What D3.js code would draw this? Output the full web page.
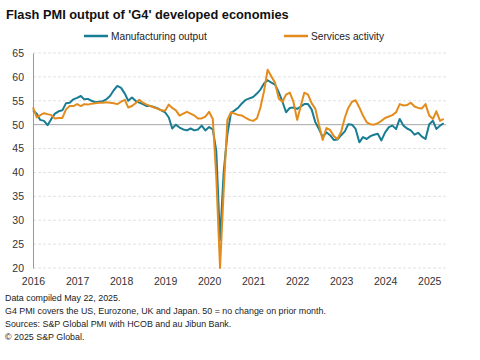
<!DOCTYPE html>
<html><head><meta charset="utf-8">
<script src="https://cdn.jsdelivr.net/npm/d3@7"></script>
<style>
body{margin:0;background:#fff;}
svg{display:block;font-family:"Liberation Sans",Arial,sans-serif;}
</style></head>
<body><svg id="c" width="480" height="360"></svg>
<script>
const startYear = 2016, startMonth = 0;
const manufacturing = [53.0,52.3,51.0,50.8,49.9,51.2,52.3,52.8,53.0,54.5,54.6,55.3,55.6,56.0,55.3,55.4,55.0,54.7,54.8,54.9,55.3,56.0,57.2,58.1,57.7,56.5,55.0,55.7,55.0,54.6,54.3,53.9,53.9,53.7,53.4,53.0,52.6,51.5,49.2,50.0,49.4,49.0,48.8,49.2,48.8,49.0,49.8,48.8,49.5,49.0,44.5,25.8,40.0,48.0,52.5,53.0,53.6,54.5,55.2,55.5,55.8,56.5,57.3,58.6,59.3,58.8,58.4,56.8,54.8,52.6,53.5,53.6,53.3,53.8,54.3,54.3,53.2,50.5,49.1,47.4,48.4,47.8,46.8,46.9,47.8,48.6,50.1,50.0,49.1,46.3,47.4,47.0,47.6,47.9,48.1,46.7,48.4,49.5,49.8,49.1,51.2,49.8,49.2,48.8,47.9,48.3,47.5,47.0,50.1,50.8,49.1,49.8,50.3];
const services = [53.6,51.5,52.0,52.4,52.2,52.0,51.3,51.4,51.4,53.2,53.9,53.9,54.3,53.9,54.3,54.2,54.4,54.5,54.6,54.6,54.7,54.6,54.5,54.3,54.8,55.2,53.6,53.9,54.5,55.2,54.6,54.2,53.9,53.6,53.3,53.0,52.9,54.2,53.5,53.0,51.9,52.3,52.7,52.3,51.9,51.3,51.3,51.7,52.7,51.2,39.0,20.0,36.0,51.0,52.6,52.3,52.0,51.9,51.4,51.0,50.8,51.3,53.5,57.0,61.5,60.1,58.8,55.5,54.8,56.3,56.7,54.8,51.0,54.0,56.7,56.3,54.5,53.3,50.0,46.8,49.3,48.9,47.6,47.0,48.5,51.5,53.5,54.8,55.1,53.6,51.9,50.5,50.1,50.0,50.3,50.8,51.4,51.7,52.0,52.6,54.3,54.0,54.1,54.6,53.8,53.5,53.4,54.3,51.9,51.2,52.8,50.8,51.2];
const yTicks = [20,25,30,35,40,45,50,55,60,65];
const xTickYears = [2016,2017,2018,2019,2020,2021,2022,2023,2024,2025];
const seriesNames = ["Manufacturing output","Services activity"];
const colors = ["#187d93","#e38c1d"];
const title = "Flash PMI output of 'G4' developed economies";
const notes = ["Data compiled May 22, 2025.","G4 PMI covers the US, Eurozone, UK and Japan. 50 = no change on prior month.","Sources: S&P Global PMI with HCOB and au Jibun Bank.","\u00a9 2025 S&P Global."];

const dates = manufacturing.map((_,i)=>new Date(startYear, startMonth+i, 1));
const svg = d3.select("#c");
const x = d3.scaleTime().domain([dates[0], dates[dates.length-1]]).range([33, 443.7]);
const y = d3.scaleLinear().domain([20,65]).range([268,53]);

svg.append("text").attr("x",6).attr("y",19).attr("font-size",12.8).attr("font-weight","bold").attr("fill","#111").text(title);

// grid
svg.append("g").selectAll("line").data(yTicks).join("line")
  .attr("x1",33).attr("x2",446).attr("y1",d=>y(d)).attr("y2",d=>y(d))
  .attr("stroke",d=>d===50?"#a6a6a6":"#e2e2e2").attr("stroke-width",1)
  .attr("stroke-dasharray",d=>d===50?null:"3,2");

// y axis
const yAx = svg.append("g").attr("transform","translate(33,0)")
  .call(d3.axisLeft(y).tickValues(yTicks).tickSize(0).tickPadding(9));
yAx.select(".domain").attr("stroke","#999");
yAx.selectAll("text").attr("font-size",10.5).attr("fill","#333").attr("font-family","Liberation Sans, Arial, sans-serif");

// x axis labels
const xAx = svg.append("g").attr("transform","translate(0,268)")
  .call(d3.axisBottom(x).tickValues(xTickYears.map(yr=>new Date(yr,0,1))).tickFormat(d3.timeFormat("%Y")).tickSize(0).tickPadding(10));
xAx.select(".domain").remove();
xAx.selectAll("text").attr("font-size",10.5).attr("fill","#333").attr("font-family","Liberation Sans, Arial, sans-serif");

// lines
const line = d3.line().x((d,i)=>x(dates[i])).y(d=>y(d)).curve(d3.curveLinear);
[manufacturing, services].forEach((s,k)=>{
  svg.append("path").datum(s).attr("d",line).attr("fill","none")
    .attr("stroke",colors[k]).attr("stroke-width",2).attr("stroke-linejoin","round");
});

// legend
const legX = [84,284];
seriesNames.forEach((n,k)=>{
  svg.append("line").attr("x1",legX[k]).attr("x2",legX[k]+24).attr("y1",36).attr("y2",36)
    .attr("stroke",colors[k]).attr("stroke-width",2.5);
  svg.append("text").attr("x",legX[k]+27).attr("y",40).attr("font-size",10.2).attr("fill","#222").text(n);
});

// notes
notes.forEach((t,i)=>{
  svg.append("text").attr("x",5).attr("y",300.5+i*13.3).attr("font-size",8.9).attr("fill","#222").text(t);
});
</script></body></html>
